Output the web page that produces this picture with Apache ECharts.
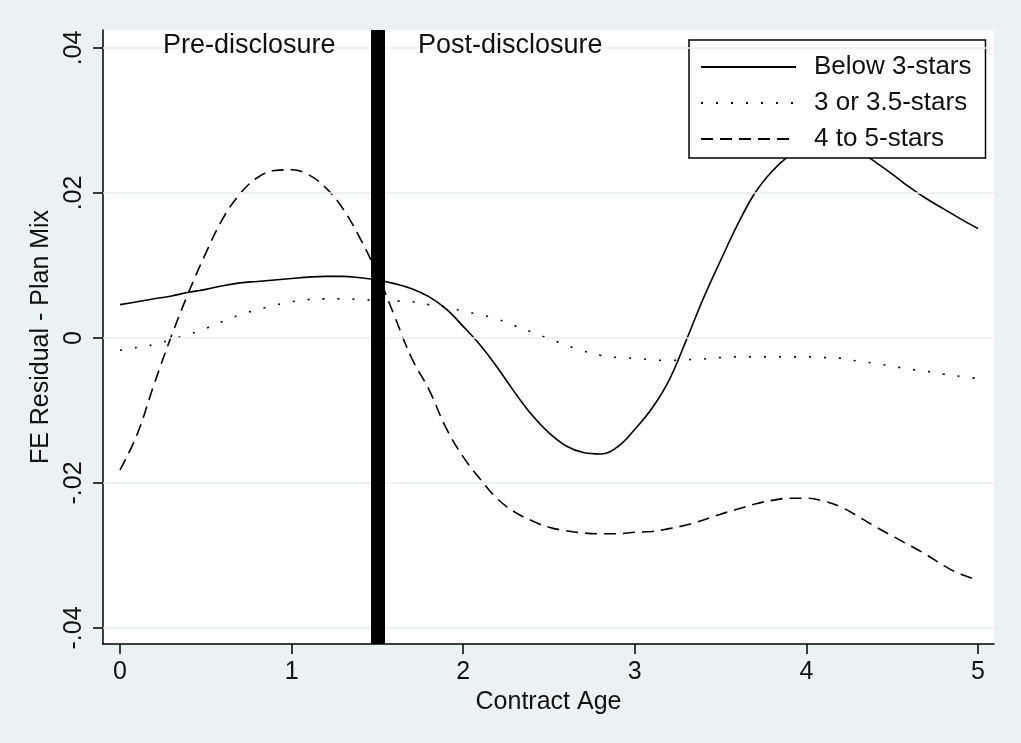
<!DOCTYPE html>
<html><head><meta charset="utf-8">
<script src="https://cdn.jsdelivr.net/npm/echarts@6/dist/echarts.min.js"></script>
<style>html,body{margin:0;padding:0;background:#fff}#c{width:1021px;height:743px}</style>
</head><body><div id="c"></div>
<script>
const contractAge = [0.0,0.1,0.2,0.3,0.4,0.5,0.6,0.7,0.8,0.9,1.0,1.1,1.2,1.3,1.4,1.5,1.6,1.7,1.8,1.9,2.0,2.1,2.2,2.3,2.4,2.5,2.6,2.7,2.8,2.9,3.0,3.1,3.2,3.3,3.4,3.5,3.6,3.7,3.8,3.9,4.0,4.1,4.2,4.3,4.4,4.5,4.6,4.7,4.8,4.9,5.0];
const below3Stars = [0.0046,0.0050,0.0054,0.0058,0.0063,0.0067,0.0072,0.0076,0.0078,0.0080,0.0082,0.0084,0.0085,0.0085,0.0083,0.0080,0.0075,0.0068,0.0057,0.0040,0.0016,-0.0010,-0.0041,-0.0075,-0.0106,-0.0131,-0.0149,-0.0158,-0.0160,-0.0150,-0.0126,-0.0097,-0.0058,-0.0003,0.0055,0.0107,0.0157,0.0200,0.0230,0.0252,0.0268,0.0274,0.0270,0.0258,0.0243,0.0226,0.0208,0.0192,0.0178,0.0164,0.0151];
const mid3Stars = [-0.0017,-0.0013,-0.0009,-0.0002,0.0005,0.0013,0.0023,0.0032,0.0039,0.0045,0.0050,0.0053,0.0054,0.0054,0.0053,0.0052,0.0051,0.0050,0.0046,0.0043,0.0037,0.0032,0.0026,0.0017,0.0008,-0.0001,-0.0010,-0.0018,-0.0024,-0.0027,-0.0028,-0.0030,-0.0031,-0.0030,-0.0029,-0.0027,-0.0026,-0.0026,-0.0026,-0.0026,-0.0026,-0.0027,-0.0028,-0.0032,-0.0035,-0.0039,-0.0043,-0.0046,-0.0050,-0.0053,-0.0056];
const top45Stars = [-0.0182,-0.0133,-0.0063,0.0003,0.0063,0.0117,0.0165,0.0199,0.0221,0.0231,0.0232,0.0225,0.0207,0.0178,0.0137,0.0088,0.0030,-0.0028,-0.0071,-0.0124,-0.0164,-0.0195,-0.0222,-0.0240,-0.0252,-0.0261,-0.0266,-0.0269,-0.0270,-0.0270,-0.0268,-0.0267,-0.0263,-0.0258,-0.0251,-0.0243,-0.0236,-0.0229,-0.0224,-0.0221,-0.0221,-0.0225,-0.0233,-0.0246,-0.0260,-0.0273,-0.0286,-0.0299,-0.0314,-0.0326,-0.0334];
const seriesNames = ['Below 3-stars','3 or 3.5-stars','4 to 5-stars'];
const xTicks = [0,1,2,3,4,5];
const yTicks = [-0.04,-0.02,0,0.02,0.04];
const yTickLabels = ['-.04','-.02','0','.02','.04'];
const disclosureAge = 1.5;
const periodLabels = ['Pre-disclosure','Post-disclosure'];

const FONT = '"Liberation Sans", Arial, sans-serif';
const TXT = '#111';
const pairs = vals => contractAge.map((a,i)=>[a, vals[i]]);

const lineSeries = (name, vals, type) => ({
  name, type:'line', data: pairs(vals), symbol:'none', showSymbol:false, smooth:0.4,
  z:3, silent:true,
  itemStyle:{color:'#000'},
  lineStyle:{color:'#000', width:1.6, type}
});

const chart = echarts.init(document.getElementById('c'), null, {renderer:'canvas'});
chart.setOption({
  animation:false,
  backgroundColor:'#EAF2F3',
  textStyle:{fontFamily:FONT},
  grid:{left:103, top:30, right:27, bottom:99, show:true, backgroundColor:'#fff', borderWidth:0},
  xAxis:{
    type:'value', min:-0.099, max:5.093,
    name:'Contract Age', nameLocation:'middle', nameGap:38,
    nameTextStyle:{fontSize:25, color:TXT, fontFamily:FONT},
    axisLine:{onZero:false, lineStyle:{color:'#000', width:1.5}},
    axisTick:{customValues:xTicks, length:10, lineStyle:{color:'#000', width:1.5}},
    axisLabel:{customValues:xTicks, margin:16, fontSize:25, color:TXT, fontFamily:FONT},
    splitLine:{show:false}
  },
  yAxis:{
    type:'value', min:-0.04221, max:0.04248,
    name:'FE Residual - Plan Mix', nameLocation:'middle', nameGap:48,
    nameTextStyle:{fontSize:25, color:TXT, fontFamily:FONT},
    axisLine:{onZero:false, lineStyle:{color:'#000', width:1.5}},
    axisTick:{customValues:yTicks, length:10, lineStyle:{color:'#000', width:1.5}},
    axisLabel:{customValues:yTicks, rotate:90, margin:16, fontSize:25, color:TXT, fontFamily:FONT,
      formatter:v=>{const i=yTicks.findIndex(t=>Math.abs(t-v)<1e-9);return i>=0?yTickLabels[i]:'';}},
    splitLine:{show:false}
  },
  legend:{
    data:seriesNames, left:689, top:40, orient:'vertical', align:'left',
    itemWidth:95, itemHeight:25, itemGap:10, padding:[14,14,6,11],
    borderColor:'#000', borderWidth:1.5, backgroundColor:'#fff', borderRadius:0,
    selectedMode:false,
    itemStyle:{opacity:0},
    textStyle:{fontSize:26, color:TXT, fontFamily:FONT, padding:[0,0,0,13]}
  },
  graphic:[
    {type:'text', left:163, top:32, z:10, style:{text:periodLabels[0], fontSize:27, fill:TXT, fontFamily:FONT}},
    {type:'text', left:418, top:32, z:10, style:{text:periodLabels[1], fontSize:27, fill:TXT, fontFamily:FONT}}
  ],
  series:[
    {type:'line', name:'grid', data:[], z:1, silent:true,
     markLine:{symbol:['none','none'], silent:true, label:{show:false}, animation:false,
       lineStyle:{color:'#E6EFF1', width:1.5, type:'solid'},
       data:yTicks.map(v=>({yAxis:v}))}},
    lineSeries(seriesNames[0], below3Stars, 'solid'),
    lineSeries(seriesNames[1], mid3Stars, [2,13]),
    lineSeries(seriesNames[2], top45Stars, [12,7]),
    {type:'line', name:'disclosure', data:[], z:5, silent:true,
     markLine:{symbol:['none','none'], silent:true, label:{show:false}, animation:false,
       lineStyle:{color:'#000', width:14, type:'solid'},
       data:[{xAxis:disclosureAge}]}}
  ]
});
</script>
</body></html>
